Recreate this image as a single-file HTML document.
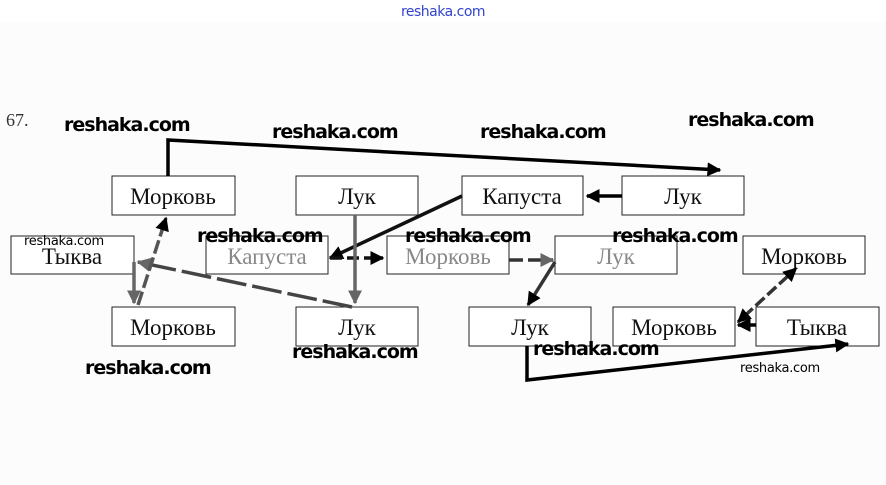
<!DOCTYPE html>
<html><head><meta charset="utf-8"><style>
html,body{margin:0;padding:0;background:#fcfcfc;}
body{width:886px;height:485px;position:relative;overflow:hidden;}
.top{position:absolute;left:0;top:0;width:886px;height:22px;background:#fff;}
svg{position:absolute;left:0;top:0;}
.b{fill:#fff;stroke:#222;stroke-width:1;}
.t{font-family:"Liberation Serif",serif;font-size:23px;text-anchor:middle;fill:#111;}
.g{fill:#888;}
.w{font-family:"DejaVu Sans",sans-serif;font-size:19px;font-weight:bold;fill:#000;letter-spacing:-1px;}
.ws{font-family:"DejaVu Sans",sans-serif;font-size:13px;fill:#000;letter-spacing:-0.3px;}
</style></head><body>
<div class="top"></div>
<svg width="886" height="485" viewBox="0 0 886 485">
<defs>
<marker id="a" viewBox="0 0 10 10" refX="9" refY="5" markerWidth="4" markerHeight="4" orient="auto"><path d="M0,0L10,5L0,10z" fill="#000"/></marker>
<marker id="ag" viewBox="0 0 10 10" refX="9" refY="5" markerWidth="4" markerHeight="4" orient="auto"><path d="M0,0L10,5L0,10z" fill="#666"/></marker>
<marker id="as" viewBox="0 0 10 10" refX="1" refY="5" markerWidth="4" markerHeight="4" orient="auto-start-reverse"><path d="M0,0L10,5L0,10z" fill="#000"/></marker>
</defs>
<text x="443" y="16" font-family="DejaVu Sans,sans-serif" font-size="14" fill="#3344cc" text-anchor="middle" letter-spacing="-0.5">reshaka.com</text>
<text x="6" y="126" font-family="Liberation Serif,serif" font-size="18" fill="#333">67.</text>
<rect class="b" x="112" y="176" width="123" height="39"/><text class="t" x="173" y="204">Морковь</text>
<rect class="b" x="296" y="176" width="122" height="39"/><text class="t" x="357" y="204">Лук</text>
<rect class="b" x="462" y="176" width="121" height="39"/><text class="t" x="522" y="204">Капуста</text>
<rect class="b" x="622" y="176" width="122" height="39"/><text class="t" x="683" y="204">Лук</text>
<rect class="b" x="11" y="236" width="123" height="38"/><text class="t" x="72" y="264">Тыква</text>
<rect class="b" x="206" y="236" width="122" height="38" stroke="#777"/><text class="t g" x="267" y="264">Капуста</text>
<rect class="b" x="387" y="236" width="122" height="38" stroke="#777"/><text class="t g" x="448" y="264">Морковь</text>
<rect class="b" x="555" y="236" width="122" height="38" stroke="#999"/><text class="t g" x="616" y="264">Лук</text>
<rect class="b" x="743" y="236" width="122" height="38"/><text class="t" x="804" y="264">Морковь</text>
<rect class="b" x="112" y="307" width="123" height="39"/><text class="t" x="173" y="335">Морковь</text>
<rect class="b" x="296" y="307" width="122" height="39"/><text class="t" x="357" y="335">Лук</text>
<rect class="b" x="469" y="307" width="122" height="39"/><text class="t" x="530" y="335">Лук</text>
<rect class="b" x="613" y="307" width="122" height="39"/><text class="t" x="674" y="335">Морковь</text>
<rect class="b" x="756" y="307" width="123" height="39"/><text class="t" x="817" y="335">Тыква</text>
<g fill="none" stroke-width="3.5">
<path d="M168,176V140L720,170" stroke="#000" marker-end="url(#a)"/>
<path d="M622,196H587" stroke="#000" marker-end="url(#a)"/>
<path d="M462,196L330,258" stroke="#111" marker-end="url(#a)"/>
<path d="M330,258H383" stroke="#111" stroke-dasharray="12,5" marker-end="url(#a)"/>
<path d="M509,260H553" stroke="#333" stroke-dasharray="14,5" marker-end="url(#ag)"/>
<path d="M555,262L528,305" stroke="#333" marker-end="url(#a)"/>
<path d="M355,215V303" stroke="#666" marker-end="url(#ag)"/>
<path d="M352,307L138,262" stroke="#444" stroke-dasharray="30,6" marker-end="url(#ag)"/>
<path d="M134,262V303" stroke="#666" marker-end="url(#ag)"/>
<path d="M138,305L166,218" stroke="#555" stroke-dasharray="14,4" marker-end="url(#a)"/>
<path d="M527,346V380L848,344" stroke="#000" marker-end="url(#a)"/>
<path d="M756,325H738" stroke="#000" marker-end="url(#a)"/>
<path d="M788,276L738,322" stroke="#333" stroke-dasharray="12,4" marker-start="url(#as)" marker-end="url(#a)"/>
</g>
<text class="w" x="64" y="131">reshaka.com</text>
<text class="w" x="272" y="138">reshaka.com</text>
<text class="w" x="480" y="138">reshaka.com</text>
<text class="w" x="688" y="126">reshaka.com</text>
<text class="ws" x="24" y="245">reshaka.com</text>
<text class="w" x="197" y="242">reshaka.com</text>
<text class="w" x="405" y="242">reshaka.com</text>
<text class="w" x="612" y="242">reshaka.com</text>
<text class="w" x="292" y="358">reshaka.com</text>
<text class="w" x="533" y="355">reshaka.com</text>
<text class="w" x="85" y="374">reshaka.com</text>
<text class="ws" x="740" y="372">reshaka.com</text>
</svg>
</body></html>
